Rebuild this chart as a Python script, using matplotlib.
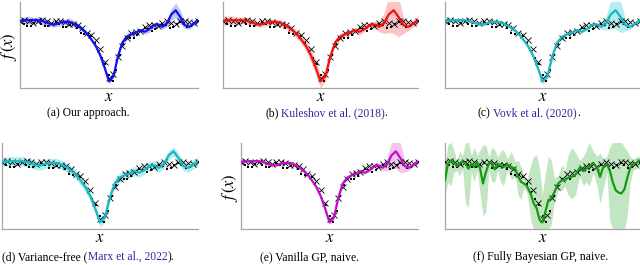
import numpy as np
import matplotlib.pyplot as plt

plt.rcParams['mathtext.fontset'] = 'stix'
plt.rcParams['font.family'] = 'Liberation Serif'

# observed data: two interleaved strands (squares and crosses)
sq_x = [0.00, 0.02, 0.04, 0.06, 0.08, 0.10, 0.12, 0.14, 0.16, 0.18,
        0.20, 0.22, 0.24, 0.26, 0.28, 0.30, 0.32, 0.34, 0.36, 0.38,
        0.40, 0.42, 0.44, 0.46, 0.48, 0.50, 0.52, 0.54, 0.56, 0.58,
        0.60, 0.62, 0.64, 0.66, 0.68, 0.70, 0.72, 0.74, 0.76, 0.78,
        0.80, 0.82, 0.84, 0.86, 0.88, 0.90, 0.92, 0.94, 0.96, 0.98,
        1.00]
sq_y = [0.81, 0.78, 0.75, 0.755, 0.79, 0.81, 0.78, 0.75, 0.755, 0.78,
        0.80, 0.77, 0.74, 0.735, 0.765, 0.77, 0.725, 0.67, 0.65, 0.655,
        0.63, 0.545, 0.45, 0.365, 0.29, 0.16, 0.09, 0.22, 0.405, 0.53,
        0.60, 0.61, 0.61, 0.635, 0.69, 0.73, 0.715, 0.695, 0.71, 0.755,
        0.78, 0.76, 0.73, 0.74, 0.78, 0.80, 0.77, 0.74, 0.75, 0.79,
        0.81]

grid_x = [0.000, 0.025, 0.050, 0.075, 0.100, 0.125, 0.150, 0.175, 0.200, 0.225,
          0.250, 0.275, 0.300, 0.325, 0.350, 0.375, 0.400, 0.425, 0.450, 0.475,
          0.500, 0.525, 0.550, 0.575, 0.600, 0.625, 0.650, 0.675, 0.700, 0.725,
          0.750, 0.775, 0.800, 0.825, 0.850, 0.875, 0.900, 0.925, 0.950, 0.975,
          1.000]
cross_y = [0.815, 0.825, 0.81, 0.79, 0.815, 0.825, 0.81, 0.79, 0.805, 0.815,
           0.80, 0.77, 0.775, 0.765, 0.72, 0.66, 0.635, 0.575, 0.47, 0.32,
           0.12, 0.165, 0.38, 0.51, 0.605, 0.665, 0.68, 0.69, 0.735, 0.765,
           0.76, 0.75, 0.785, 0.805, 0.79, 0.78, 0.805, 0.815, 0.80, 0.79,
           0.815]

# predictive mean shared by (a)-(e)
mean_curve = [0.81, 0.82, 0.82, 0.82, 0.82, 0.81, 0.79, 0.77, 0.77, 0.79,
              0.80, 0.80, 0.78, 0.75, 0.71, 0.66, 0.59, 0.51, 0.40, 0.25,
              0.08, 0.14, 0.38, 0.55, 0.62, 0.65, 0.67, 0.70, 0.68, 0.71,
              0.76, 0.77, 0.74, 0.78, 0.89, 0.94, 0.86, 0.76, 0.74, 0.78,
              0.82]

# half widths of the shaded intervals
band_a = [0.03, 0.04, 0.05, 0.03, 0.04, 0.05, 0.04, 0.03, 0.03, 0.04,
          0.03, 0.05, 0.04, 0.03, 0.03, 0.03, 0.02, 0.02, 0.02, 0.02,
          0.03, 0.02, 0.02, 0.03, 0.04, 0.03, 0.02, 0.02, 0.03, 0.04,
          0.03, 0.02, 0.03, 0.04, 0.07, 0.09, 0.08, 0.04, 0.03, 0.03,
          0.03]
band_b = [0.06, 0.05, 0.05, 0.04, 0.04, 0.04, 0.03, 0.03, 0.03, 0.04,
          0.03, 0.03, 0.04, 0.04, 0.04, 0.05, 0.05, 0.06, 0.08, 0.09,
          0.08, 0.06, 0.05, 0.04, 0.04, 0.03, 0.03, 0.03, 0.04, 0.03,
          0.03, 0.04, 0.06, 0.12, 0.22, 0.28, 0.24, 0.10, 0.05, 0.04,
          0.05]
band_c = [0.04, 0.03, 0.02, 0.02, 0.02, 0.02, 0.02, 0.02, 0.02, 0.02,
          0.02, 0.02, 0.02, 0.02, 0.02, 0.02, 0.02, 0.02, 0.03, 0.04,
          0.04, 0.04, 0.03, 0.02, 0.02, 0.02, 0.02, 0.02, 0.02, 0.02,
          0.02, 0.02, 0.03, 0.08, 0.17, 0.22, 0.19, 0.07, 0.03, 0.02,
          0.02]
band_d = 0.055
band_e = [0.02, 0.02, 0.02, 0.02, 0.02, 0.02, 0.02, 0.02, 0.02, 0.02,
          0.02, 0.02, 0.02, 0.02, 0.02, 0.02, 0.02, 0.02, 0.02, 0.03,
          0.03, 0.03, 0.02, 0.02, 0.02, 0.02, 0.02, 0.02, 0.02, 0.02,
          0.02, 0.02, 0.03, 0.08, 0.16, 0.21, 0.18, 0.07, 0.03, 0.02,
          0.02]

# fully Bayesian GP (f)
green_x = [0.000, 0.015, 0.030, 0.045, 0.060, 0.075, 0.090,
           0.105, 0.120, 0.135, 0.150, 0.165, 0.180, 0.195,
           0.210, 0.225, 0.240, 0.255, 0.270, 0.285, 0.300,
           0.320, 0.340, 0.360, 0.376, 0.390, 0.405, 0.420,
           0.440, 0.455, 0.470, 0.485, 0.500, 0.515, 0.530,
           0.545, 0.560, 0.580, 0.600, 0.615, 0.630, 0.650,
           0.670, 0.690, 0.710, 0.725, 0.740, 0.760, 0.780,
           0.795, 0.810, 0.830, 0.845, 0.860, 0.875, 0.890,
           0.905, 0.920, 0.935, 0.950, 0.965, 0.980, 1.000]
green_mean = [0.59, 0.79, 0.83, 0.81, 0.76, 0.79, 0.82,
              0.79, 0.73, 0.79, 0.75, 0.81, 0.73, 0.55,
              0.69, 0.79, 0.80, 0.72, 0.79, 0.77, 0.75,
              0.78, 0.75, 0.73, 0.63, 0.57, 0.55, 0.52,
              0.42, 0.31, 0.25, 0.11, 0.08, 0.21, 0.35,
              0.37, 0.44, 0.55, 0.59, 0.59, 0.62, 0.63,
              0.66, 0.74, 0.70, 0.73, 0.76, 0.80, 0.74,
              0.63, 0.74, 0.78, 0.71, 0.57, 0.47, 0.44,
              0.43, 0.48, 0.62, 0.74, 0.79, 0.80, 0.83]
green_lo = [0.42, 0.57, 0.52, 0.68, 0.71, 0.64, 0.73,
            0.31, 0.26, 0.69, 0.57, 0.71, 0.42, 0.16,
            0.21, 0.71, 0.57, 0.57, 0.71, 0.57, 0.52,
            0.71, 0.60, 0.64, 0.40, 0.36, 0.50, 0.44,
            0.10, 0.00, 0.00, 0.00, 0.00, 0.00, 0.00,
            0.05, 0.31, 0.47, 0.47, 0.52, 0.42, 0.36,
            0.42, 0.64, 0.52, 0.57, 0.52, 0.68, 0.52,
            0.31, 0.47, 0.68, 0.10, 0.00, 0.00, 0.00,
            0.00, 0.00, 0.16, 0.57, 0.71, 0.73, 0.73]
green_hi = [0.78, 1.02, 1.05, 0.96, 0.83, 0.94, 0.89,
            1.05, 1.05, 0.89, 0.99, 0.89, 0.96, 1.02,
            1.01, 0.87, 0.99, 0.96, 0.87, 0.94, 0.96,
            0.85, 0.94, 0.81, 0.83, 0.75, 0.62, 0.60,
            0.78, 0.88, 0.89, 0.73, 0.42, 0.68, 0.88,
            0.83, 0.62, 0.64, 0.78, 0.69, 0.88, 0.99,
            0.92, 0.83, 0.88, 0.96, 1.05, 0.94, 0.88,
            0.92, 0.85, 0.88, 0.99, 1.05, 1.05, 1.05,
            1.05, 0.99, 0.94, 0.87, 0.85, 0.87, 0.88]

CITE = '#2a2a9c'
W, H = 640, 265

fig = plt.figure(figsize=(6.4, 2.65), dpi=100)


def make_axes(left, top, right, bottom):
    ax = fig.add_axes([left / W, 1 - bottom / H, (right - left) / W, (bottom - top) / H])
    ax.set_xlim(0, 1)
    ax.set_ylim(0, 1.04)
    ax.set_xticks([])
    ax.set_yticks([])
    for s in ['top', 'right']:
        ax.spines[s].set_visible(False)
    for s in ['left', 'bottom']:
        ax.spines[s].set_color('0.65')
        ax.spines[s].set_linewidth(0.9)
    ax.text(0.5, -0.11, '$x$', transform=ax.transAxes, ha='center', va='center', fontsize=12)
    return ax


def draw_data(ax):
    ax.plot(sq_x, sq_y, 's', color='black', ms=2.0, mew=0, zorder=3)
    ax.plot(grid_x, cross_y, 'x', color='black', ms=4, mew=0.6, zorder=3)


def panel(ax, mean, lo, hi, line_c, band_c, xs=grid_x):
    ax.fill_between(xs, lo, hi, color=band_c, lw=0, zorder=1)
    draw_data(ax)
    ax.plot(xs, mean, color=line_c, lw=1.6, zorder=4)


def sym(width):
    m = np.array(mean_curve)
    return m - np.array(width), m + np.array(width)


ax_a = make_axes(20, 2, 198, 88)
ax_b = make_axes(223, 2, 418, 88)
ax_c = make_axes(445, 2, 640, 88)
ax_d = make_axes(2, 143, 198, 229)
ax_e = make_axes(241, 143, 418, 229)
ax_f = make_axes(445, 143, 640, 229)

panel(ax_a, mean_curve, *sym(band_a), '#1010f0', '#c4c4fa')
panel(ax_b, mean_curve, *sym(band_b), '#f01010', '#fcc4c4')
panel(ax_c, mean_curve, *sym(band_c), '#1ab8c0', '#b4ecf0')
panel(ax_d, mean_curve, *sym([band_d] * len(grid_x)), '#1ab8c0', '#b4ecf0')
panel(ax_e, mean_curve, *sym(band_e), '#c010c8', '#f2c4f2')
panel(ax_f, green_mean, green_lo, green_hi, '#159a15', '#c2e6c2', xs=green_x)

for ax in [ax_a, ax_e]:
    ax.text(-0.064, 0.48, '$f\\,(x)$', transform=ax.transAxes, rotation=90,
            ha='center', va='center', fontsize=12)

# captions, pieces chained left to right
renderer = fig.canvas.get_renderer()
CAP_FS = 8.4


def caption(x_px, y_px, pieces):
    x = x_px
    for txt, color, gap in pieces:
        t = fig.text(x / W, 1 - y_px / H, txt, color=color, fontsize=CAP_FS,
                     ha='left', va='baseline')
        x = t.get_window_extent(renderer).x1 + gap


SP = 2.6
caption(47, 116, [('(a) Our approach.', 'black', 0)])
caption(265, 116, [('(b)', 'black', SP), ('Kuleshov et al. (2018)', CITE, 0), ('.', 'black', 0)])
caption(478, 116, [('(c)', 'black', SP), ('Vovk et al. (2020)', CITE, 0), ('.', 'black', 0)])
caption(2, 260, [('(d) Variance-free (', 'black', 0.3), ('Marx et al., 2022', CITE, 0.3), (').', 'black', 0)])
caption(260, 260, [('(e) Vanilla GP, naive.', 'black', 0)])
caption(473, 260, [('(f) Fully Bayesian GP, naive.', 'black', 0)])

fig.savefig('out.png', dpi=100)
